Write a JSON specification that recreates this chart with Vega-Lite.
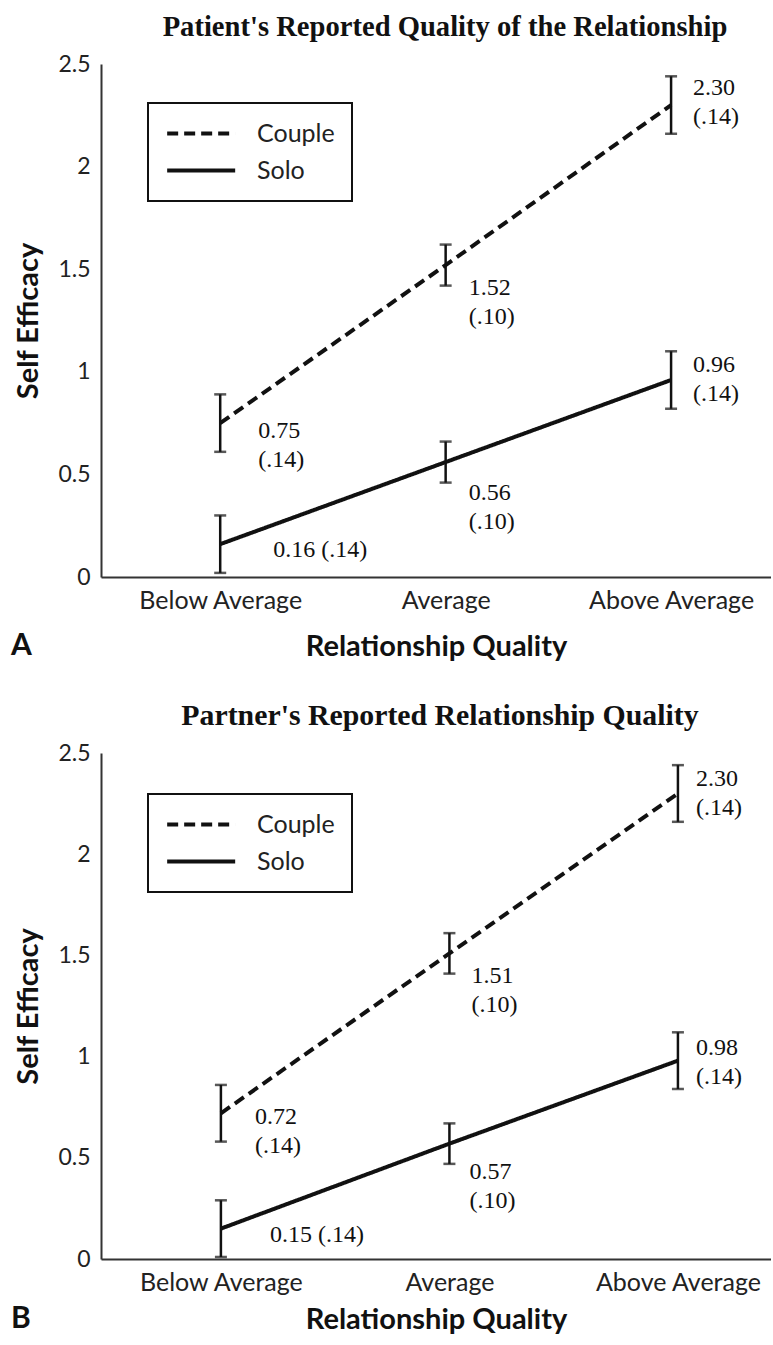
{
  "$schema": "https://vega.github.io/schema/vega-lite/v6.json",
  "background": "white",
  "padding": {"left": 10, "top": 13, "right": 0, "bottom": 0},
  "config": {
    "view": {"stroke": null},
    "font": "Lato",
    "concat": {"spacing": 40},
    "axis": {"domainColor": "#333", "domainWidth": 2, "ticks": false, "grid": false, "labelColor": "#222", "labelFont": "Lato", "labelFontSize": 23, "titleFont": "Lato", "titleFontWeight": "bold", "titleFontSize": 29, "titleColor": "#111"},
    "title": {"font": "Liberation Serif", "fontWeight": "bold", "fontSize": 28.6, "color": "#111"},
    "legend": {"title": null, "orient": "none", "legendX": 47, "legendY": 39, "strokeColor": "#111", "strokeWidth": 2, "fillColor": "white", "padding": 17, "symbolType": "M-1,0H5", "symbolSize": 514, "symbolStrokeWidth": 4, "symbolStrokeColor": "#111", "labelFont": "Lato", "labelFontSize": 25, "labelOffset": 65, "rowPadding": 10, "labelColor": "#222"}
  },
  "datasets": {
    "pts": [
      {"panel": "A", "series": "Couple", "quality": "Below Average", "mean": 0.75, "se": 0.14, "label": "0.75\n(.14)"},
      {"panel": "A", "series": "Couple", "quality": "Average", "mean": 1.52, "se": 0.10, "label": "1.52\n(.10)"},
      {"panel": "A", "series": "Couple", "quality": "Above Average", "mean": 2.30, "se": 0.14, "label": "2.30\n(.14)"},
      {"panel": "A", "series": "Solo", "quality": "Below Average", "mean": 0.16, "se": 0.14, "label": "0.16 (.14)"},
      {"panel": "A", "series": "Solo", "quality": "Average", "mean": 0.56, "se": 0.10, "label": "0.56\n(.10)"},
      {"panel": "A", "series": "Solo", "quality": "Above Average", "mean": 0.96, "se": 0.14, "label": "0.96\n(.14)"},
      {"panel": "B", "series": "Couple", "quality": "Below Average", "mean": 0.72, "se": 0.14, "label": "0.72\n(.14)"},
      {"panel": "B", "series": "Couple", "quality": "Average", "mean": 1.51, "se": 0.10, "label": "1.51\n(.10)"},
      {"panel": "B", "series": "Couple", "quality": "Above Average", "mean": 2.30, "se": 0.14, "label": "2.30\n(.14)"},
      {"panel": "B", "series": "Solo", "quality": "Below Average", "mean": 0.15, "se": 0.14, "label": "0.15 (.14)"},
      {"panel": "B", "series": "Solo", "quality": "Average", "mean": 0.57, "se": 0.10, "label": "0.57\n(.10)"},
      {"panel": "B", "series": "Solo", "quality": "Above Average", "mean": 0.98, "se": 0.14, "label": "0.98\n(.14)"}
    ]
  },
  "resolve": {"scale": {"strokeDash": "independent"}, "legend": {"strokeDash": "independent"}},
  "vconcat": [
    {
      "title": {"text": "A", "orient": "bottom", "anchor": "start", "font": "Lato", "fontWeight": "bold", "fontSize": 30, "offset": -30, "dx": -4},
      "vconcat": [
        {
          "width": 670, "height": 513,
          "title": {"text": "Patient's Reported Quality of the Relationship", "anchor": "middle", "dx": 9, "offset": 11},
          "data": {"name": "pts"},
          "transform": [{"filter": "datum.panel === 'A'"}],
          "encoding": {
            "x": {"field": "quality", "type": "ordinal", "sort": ["Below Average", "Average", "Above Average"], "scale": {"type": "point", "padding": 0.486, "align": 0.544}, "axis": {"title": "Relationship Quality", "labelAngle": 0, "labelPadding": 11, "titlePadding": 19, "labelFontSize": 25}},
            "y": {"field": "mean", "type": "quantitative", "scale": {"domain": [0, 2.5], "nice": false}, "axis": {"title": "Self Efficacy", "values": [0, 0.5, 1, 1.5, 2, 2.5], "format": "~g", "labelPadding": 11, "titlePadding": 14}}
          },
          "layer": [
            {"mark": {"type": "line", "color": "#111", "strokeWidth": 4}, "encoding": {"strokeDash": {"field": "series", "type": "nominal", "scale": {"domain": ["Couple", "Solo"], "range": [[11, 6], [1, 0]]}}}},
            {"mark": {"type": "errorbar", "ticks": {"size": 12}, "thickness": 2.5, "color": "#111"}, "encoding": {"yError": {"field": "se"}}},
            {"transform": [{"filter": "datum.series === 'Couple' && datum.quality === 'Below Average'"}], "mark": {"type": "text", "align": "left", "baseline": "middle", "dx": 38, "dy": 8, "font": "Liberation Serif", "fontSize": 24, "lineHeight": 29, "lineBreak": "\n", "color": "#111"}, "encoding": {"text": {"field": "label"}}},
            {"transform": [{"filter": "datum.series === 'Solo' && datum.quality === 'Below Average'"}], "mark": {"type": "text", "align": "left", "baseline": "middle", "dx": 53, "dy": 6, "font": "Liberation Serif", "fontSize": 24, "lineHeight": 29, "lineBreak": "\n", "color": "#111"}, "encoding": {"text": {"field": "label"}}},
            {"transform": [{"filter": "datum.series === 'Couple' && datum.quality === 'Average'"}], "mark": {"type": "text", "align": "left", "baseline": "middle", "dx": 23, "dy": 23, "font": "Liberation Serif", "fontSize": 24, "lineHeight": 29, "lineBreak": "\n", "color": "#111"}, "encoding": {"text": {"field": "label"}}},
            {"transform": [{"filter": "datum.series === 'Solo' && datum.quality === 'Average'"}], "mark": {"type": "text", "align": "left", "baseline": "middle", "dx": 23, "dy": 31, "font": "Liberation Serif", "fontSize": 24, "lineHeight": 29, "lineBreak": "\n", "color": "#111"}, "encoding": {"text": {"field": "label"}}},
            {"transform": [{"filter": "datum.series === 'Couple' && datum.quality === 'Above Average'"}], "mark": {"type": "text", "align": "left", "baseline": "middle", "dx": 22, "dy": -17, "font": "Liberation Serif", "fontSize": 24, "lineHeight": 29, "lineBreak": "\n", "color": "#111"}, "encoding": {"text": {"field": "label"}}},
            {"transform": [{"filter": "datum.series === 'Solo' && datum.quality === 'Above Average'"}], "mark": {"type": "text", "align": "left", "baseline": "middle", "dx": 22, "dy": -15, "font": "Liberation Serif", "fontSize": 24, "lineHeight": 29, "lineBreak": "\n", "color": "#111"}, "encoding": {"text": {"field": "label"}}}
          ]
        }
      ]
    },
    {
      "title": {"text": "B", "orient": "bottom", "anchor": "start", "font": "Lato", "fontWeight": "bold", "fontSize": 30, "offset": -30, "dx": -4},
      "vconcat": [
        {
          "width": 670, "height": 506,
          "title": {"text": "Partner's Reported Relationship Quality", "anchor": "middle", "dx": 4, "offset": 11, "fontSize": 29.8},
          "data": {"name": "pts"},
          "transform": [{"filter": "datum.panel === 'B'"}],
          "encoding": {
            "x": {"field": "quality", "type": "ordinal", "sort": ["Below Average", "Average", "Above Average"], "scale": {"type": "point", "padding": 0.466, "align": 0.563}, "axis": {"title": "Relationship Quality", "labelAngle": 0, "labelPadding": 11, "titlePadding": 10, "labelFontSize": 25}},
            "y": {"field": "mean", "type": "quantitative", "scale": {"domain": [0, 2.5], "nice": false}, "axis": {"title": "Self Efficacy", "values": [0, 0.5, 1, 1.5, 2, 2.5], "format": "~g", "labelPadding": 11, "titlePadding": 14}}
          },
          "layer": [
            {"mark": {"type": "line", "color": "#111", "strokeWidth": 4}, "encoding": {"strokeDash": {"field": "series", "type": "nominal", "scale": {"domain": ["Couple", "Solo"], "range": [[11, 6], [1, 0]]}, "legend": {"legendY": 41}}}},
            {"mark": {"type": "errorbar", "ticks": {"size": 12}, "thickness": 2.5, "color": "#111"}, "encoding": {"yError": {"field": "se"}}},
            {"transform": [{"filter": "datum.series === 'Couple' && datum.quality === 'Below Average'"}], "mark": {"type": "text", "align": "left", "baseline": "middle", "dx": 34, "dy": 4, "font": "Liberation Serif", "fontSize": 24, "lineHeight": 29, "lineBreak": "\n", "color": "#111"}, "encoding": {"text": {"field": "label"}}},
            {"transform": [{"filter": "datum.series === 'Solo' && datum.quality === 'Below Average'"}], "mark": {"type": "text", "align": "left", "baseline": "middle", "dx": 49, "dy": 6, "font": "Liberation Serif", "fontSize": 24, "lineHeight": 29, "lineBreak": "\n", "color": "#111"}, "encoding": {"text": {"field": "label"}}},
            {"transform": [{"filter": "datum.series === 'Couple' && datum.quality === 'Average'"}], "mark": {"type": "text", "align": "left", "baseline": "middle", "dx": 22, "dy": 23, "font": "Liberation Serif", "fontSize": 24, "lineHeight": 29, "lineBreak": "\n", "color": "#111"}, "encoding": {"text": {"field": "label"}}},
            {"transform": [{"filter": "datum.series === 'Solo' && datum.quality === 'Average'"}], "mark": {"type": "text", "align": "left", "baseline": "middle", "dx": 20, "dy": 28, "font": "Liberation Serif", "fontSize": 24, "lineHeight": 29, "lineBreak": "\n", "color": "#111"}, "encoding": {"text": {"field": "label"}}},
            {"transform": [{"filter": "datum.series === 'Couple' && datum.quality === 'Above Average'"}], "mark": {"type": "text", "align": "left", "baseline": "middle", "dx": 18, "dy": -14, "font": "Liberation Serif", "fontSize": 24, "lineHeight": 29, "lineBreak": "\n", "color": "#111"}, "encoding": {"text": {"field": "label"}}},
            {"transform": [{"filter": "datum.series === 'Solo' && datum.quality === 'Above Average'"}], "mark": {"type": "text", "align": "left", "baseline": "middle", "dx": 18, "dy": -13, "font": "Liberation Serif", "fontSize": 24, "lineHeight": 29, "lineBreak": "\n", "color": "#111"}, "encoding": {"text": {"field": "label"}}}
          ]
        }
      ]
    }
  ]
}
